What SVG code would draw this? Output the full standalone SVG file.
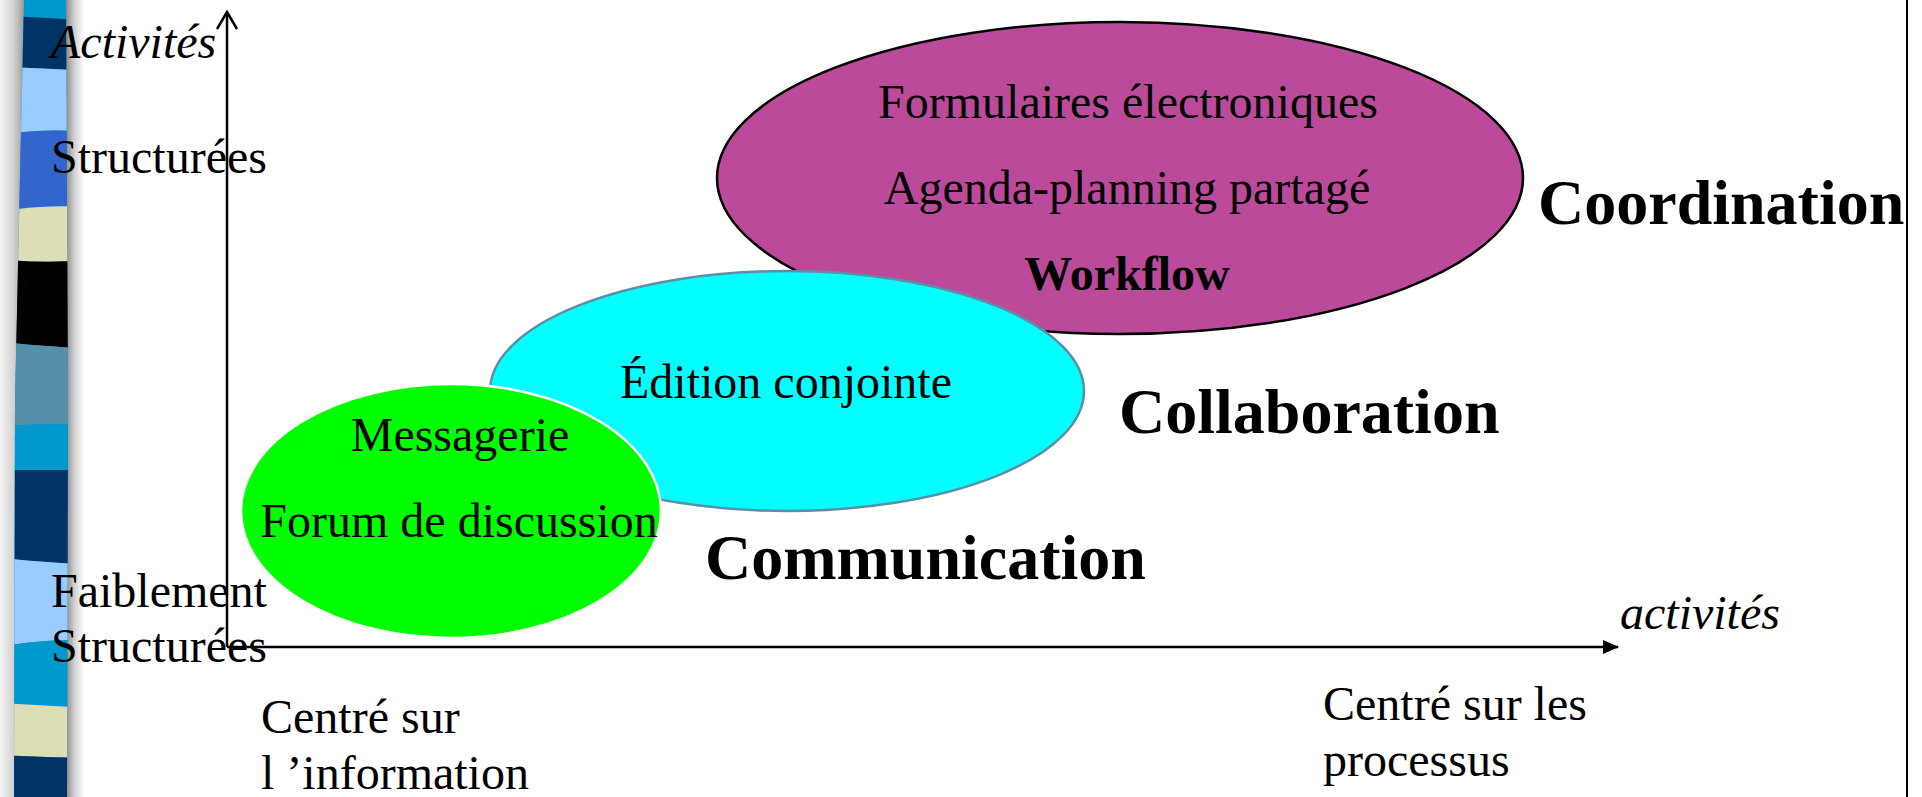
<svg xmlns="http://www.w3.org/2000/svg" width="1922" height="797" viewBox="0 0 1922 797">
  <defs>
    <style>
      .t { font-family: "Liberation Serif", "Times New Roman", serif; font-size: 48px; fill: #000; }
      .it { font-style: italic; }
      .b { font-weight: bold; }
      .big { font-family: "Liberation Serif", "Times New Roman", serif; font-size: 64px; font-weight: bold; fill: #000; }
      .axis { stroke: #000; stroke-width: 2.5; fill: none; }
    </style>
    <linearGradient id="shadeL" x1="0" y1="0" x2="1" y2="0">
      <stop offset="0" stop-color="#f4f4f4"/>
      <stop offset="0.6" stop-color="#d0d0d0"/>
      <stop offset="1" stop-color="#9a9a9a"/>
    </linearGradient>
    <linearGradient id="shadeR" x1="0" y1="0" x2="1" y2="0">
      <stop offset="0" stop-color="#8a8a8a"/>
      <stop offset="0.45" stop-color="#cfcfcf"/>
      <stop offset="1" stop-color="#ffffff"/>
    </linearGradient>
    <clipPath id="ribbon">
      <path d="M24,0 L66,0 L68,400 L67,797 L14,797 L15,400 Z"/>
    </clipPath>
    <marker id="arrowFilled" markerWidth="16" markerHeight="14" refX="15" refY="7" orient="auto" markerUnits="userSpaceOnUse">
      <path d="M0,0 L16,7 L0,14 Z" fill="#000"/>
    </marker>
  </defs>

  <rect width="1922" height="797" fill="#ffffff"/>

  <!-- decorative side ribbon -->
  <g id="ribbon-strip">
    <rect x="0" y="0" width="24" height="797" fill="url(#shadeL)"/>
    <rect x="66" y="0" width="18" height="797" fill="url(#shadeR)"/>
    <g clip-path="url(#ribbon)">
      <rect x="0" y="0" width="90" height="797" fill="#0099cc"/>
      <path d="M0,16 Q40,17 90,21 L90,71 Q40,68 0,67 Z" fill="#003366"/>
      <path d="M0,67 Q40,68 90,71 L90,132 Q40,128 0,135 Z" fill="#99ccff"/>
      <path d="M0,135 Q40,128 90,132 L90,207 Q40,204 0,212 Z" fill="#3366cc"/>
      <path d="M0,212 Q40,204 90,207 L90,260 Q40,264 0,259 Z" fill="#dedeb6"/>
      <path d="M0,259 Q40,264 90,260 L90,349 Q40,346 0,342 Z" fill="#000000"/>
      <path d="M0,342 Q40,346 90,349 L90,425 Q40,422 0,427 Z" fill="#5590aa"/>
      <path d="M0,427 Q40,422 90,425 L90,470 L0,470 Z" fill="#0099cc"/>
      <path d="M0,470 L90,470 L90,565 Q40,562 0,558 Z" fill="#003366"/>
      <path d="M0,558 Q40,562 90,565 L90,640 Q40,639 0,647 Z" fill="#99ccff"/>
      <path d="M0,647 Q40,639 90,640 L90,708 Q40,705 0,703 Z" fill="#0099cc"/>
      <path d="M0,703 Q40,705 90,708 L90,758 Q40,757 0,755 Z" fill="#dedeb6"/>
      <path d="M0,755 Q40,757 90,758 L90,797 L0,797 Z" fill="#003366"/>
    </g>
  </g>

  <!-- frame line on the right -->
  <line x1="1907" y1="0" x2="1907" y2="797" stroke="#000" stroke-width="2"/>

  <!-- groupware families -->
  <g id="coordination">
    <ellipse cx="1120" cy="178" rx="403" ry="156" fill="#bb4a9b" stroke="#000" stroke-width="2.5"/>
    <text class="t" x="1128" y="118" text-anchor="middle">Formulaires électroniques</text>
    <text class="t" x="1127" y="204" text-anchor="middle">Agenda-planning partagé</text>
    <text class="t b" x="1127" y="290" text-anchor="middle">Workflow</text>
  </g>

  <g id="collaboration">
    <ellipse cx="787" cy="391" rx="297" ry="120" fill="#00ffff" stroke="#5b8fa8" stroke-width="2.5"/>
    <text class="t" x="786" y="398" text-anchor="middle">Édition conjointe</text>
  </g>

  <g id="communication">
    <ellipse cx="451" cy="511" rx="210" ry="127" fill="#00ff00" stroke="#ffffff" stroke-width="2.5"/>
    <text class="t" x="460" y="451" text-anchor="middle">Messagerie</text>
    <text class="t" x="459" y="537" text-anchor="middle">Forum de discussion</text>
  </g>

  <!-- axes -->
  <g id="connectors">
    <line class="axis" x1="227" y1="647" x2="227" y2="12"/>
    <polyline class="axis" points="217,29 227,12 237,29"/>
    <line class="axis" x1="227" y1="647" x2="1618" y2="647" marker-end="url(#arrowFilled)"/>
  </g>

  <!-- axis labels -->
  <g id="y-axis-labels">
    <text class="t it" x="51" y="58">Activités</text>
    <text class="t" x="51" y="173">Structurées</text>
    <text class="t" x="51" y="607">Faiblement</text>
    <text class="t" x="51" y="662">Structurées</text>
  </g>

  <g id="x-axis-labels">
    <text class="t it" x="1620" y="629">activités</text>
    <text class="t" x="261" y="733">Centré sur</text>
    <text class="t" x="261" y="789">l ’information</text>
    <text class="t" x="1323" y="720">Centré sur les</text>
    <text class="t" x="1323" y="776">processus</text>
  </g>

  <!-- family names -->
  <g id="family-labels">
    <text class="big" x="1538" y="224">Coordination</text>
    <text class="big" x="1119" y="433">Collaboration</text>
    <text class="big" x="705" y="579">Communication</text>
  </g>
</svg>
